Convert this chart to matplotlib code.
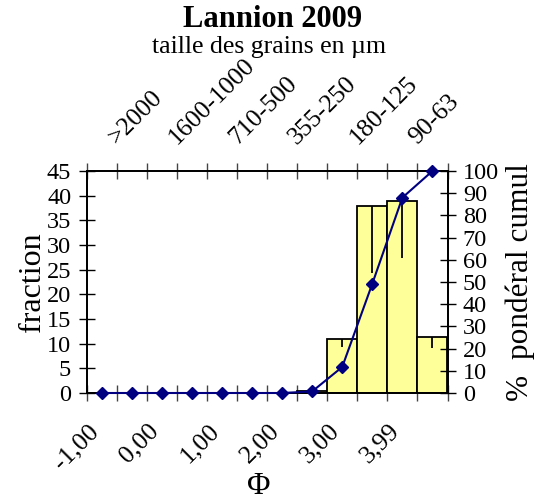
import matplotlib
matplotlib.use("Agg")
import matplotlib.pyplot as plt
import matplotlib.transforms as mtransforms
import numpy as np

plt.rcParams['font.family'] = ['Liberation Serif', 'DejaVu Serif']

# Data (12 sieve classes)
fraction = [0, 0, 0, 0, 0, 0, 0, 0.5, 10.9, 38.0, 38.9, 11.3]
err_low = [0, 0, 0, 0, 0, 0, 0, 0, 1.5, 13.7, 11.6, 2.1]
cumul = [0, 0, 0, 0, 0, 0, 0, 0.7, 11.7, 49.2, 88.0, 100]
phi_labels = ["-1,00", "0,00", "1,00", "2,00", "3,00", "3,99"]
size_labels = [">2000", "1600-1000", "710-500", "355-250", "180-125", "90-63"]

n = len(fraction)
edges = np.arange(n + 1)
centers = np.arange(n) + 0.5

TICK_FS = 17.5
ROT_FS = 18.5
W, H = 536, 499
fig = plt.figure(figsize=(W / 100, H / 100), dpi=100)
ax = fig.add_axes([86.5 / W, 1 - 393 / H, 361 / W, 222 / H])

ax.bar(centers, fraction, width=1.0, color='#FFFF99', edgecolor='black',
       linewidth=1.3, zorder=2)
ax.errorbar(centers, fraction, yerr=[err_low, [0] * n], fmt='none',
            ecolor='black', elinewidth=1.3, capsize=0, zorder=3)
ax.set_xlim(0, n)
ax.set_ylim(0, 45)
ax.set_yticks(np.arange(0, 46, 5))
ax.set_xticks(edges)
ax.set_xticklabels([])
ax.tick_params(axis='x', direction='inout', length=11, width=1, top=True,
               color='#444444')
ax.tick_params(axis='y', direction='inout', length=12, width=1,
               labelsize=TICK_FS, pad=5)
for s in ax.spines.values():
    s.set_linewidth(1.3)
ax.set_ylabel("fraction", fontsize=23, labelpad=0)

ax2 = ax.twinx()
ax2.plot(centers, cumul, color='#000080', linewidth=1.5, marker='D',
         markersize=6.5, zorder=5, clip_on=False)
ax2.set_ylim(0, 100)
ax2.set_yticks(np.arange(0, 101, 10))
ax2.tick_params(axis='y', direction='inout', length=12, width=1,
                labelsize=TICK_FS, pad=5)
for s in ax2.spines.values():
    s.set_linewidth(1.3)
ax2.set_ylabel("%  pondéral cumul", fontsize=22.5, labelpad=5)

# bottom rotated labels (phi) at even edges
for i, lab in enumerate(phi_labels):
    tr = mtransforms.offset_copy(ax.get_xaxis_transform(), fig=fig,
                                 x=1, y=-27, units='dots')
    ax.text(edges[2 * i], 0, lab, transform=tr, rotation=45,
            rotation_mode='anchor', ha='right', va='top', fontsize=ROT_FS)

# top rotated labels (sizes) at odd edges
for i, lab in enumerate(size_labels):
    tr = mtransforms.offset_copy(ax.get_xaxis_transform(), fig=fig,
                                 x=0, y=26, units='dots')
    ax.text(edges[2 * i + 1], 1, lab, transform=tr, rotation=45,
            rotation_mode='anchor', ha='left', va='baseline', fontsize=ROT_FS)

fig.text(259 / W, 1 - 486 / H, "Φ", fontsize=23, ha='center', va='center')
fig.text(273 / W, 1 - 27 / H, "Lannion 2009", fontsize=22, fontweight='bold',
         ha='center', va='baseline')
fig.text(269 / W, 1 - 53 / H, "taille des grains en µm", fontsize=18.5,
         ha='center', va='baseline')

fig.savefig("out.png", dpi=100)
